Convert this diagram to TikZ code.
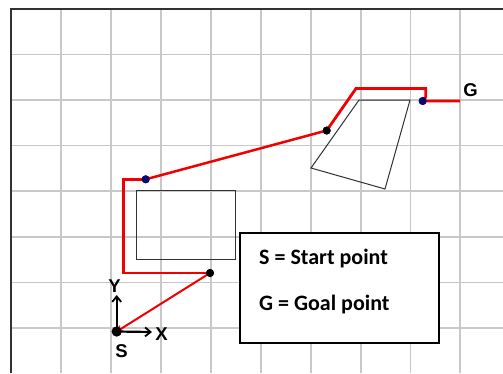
\documentclass[tikz,border=0pt]{standalone}
\usepackage{fontspec}
\setmainfont{Carlito}
\newfontfamily\arialfont{Liberation Sans}
\usetikzlibrary{arrows.meta}
\definecolor{gridgray}{RGB}{200,200,200}
\definecolor{framegray}{RGB}{50,50,50}
\definecolor{pathred}{RGB}{240,0,0}
\definecolor{dotblue}{RGB}{10,10,110}
\begin{document}
\begin{tikzpicture}[x=1pt,y=-1pt,
  gridline/.style={draw=gridgray,line width=1.2pt},
  frameline/.style={draw=framegray,line width=1.6pt},
  obstacle/.style={draw=framegray,line width=1pt},
  redthick/.style={draw=pathred,line width=2.8pt},
  redthin/.style={draw=pathred,line width=2pt},
  blackdot/.style={circle,fill=black,inner sep=0pt,minimum size=8pt},
  bluedot/.style={circle,fill=dotblue,inner sep=0pt,minimum size=8pt},
  axisline/.style={draw=black,line width=2.2pt,-{Straight Barb[length=5.5pt,width=9pt,line width=1.8pt]}},
  axlabel/.style={font=\arialfont\bfseries\fontsize{18.5}{18.5}\selectfont,inner sep=0pt},
  legendtext/.style={font=\bfseries\fontsize{22}{22}\selectfont,anchor=west,inner sep=0pt}
]
\useasboundingbox (0,0) rectangle (503,373);
\fill[white] (0,0) rectangle (503,373);
% grid
\foreach \x in {61,111,161,211,261,311,361,410.5,460}
  \draw[gridline] (\x,9) -- (\x,373);
\foreach \y in {54.5,100,145.5,191,237,282.5,328}
  \draw[gridline] (11,\y) -- (503,\y);
% frame
\draw[frameline] (11,373) -- (11,9) -- (503,9);
% obstacles
\draw[obstacle] (136,190.7) rectangle (235.7,259.3);
\draw[obstacle] (359,100) -- (410,100) -- (385,189) -- (311,168) -- cycle;
% path vertices
\coordinate (c1) at (123.7,273);
\coordinate (c2) at (123.7,179.3);
\coordinate (c3) at (356,88.5);
\coordinate (c4) at (425.7,88.5);
\coordinate (c5) at (425.7,97);
\coordinate (g) at (460,101);
\node[blackdot,minimum size=10pt] (s) at (116.7,331.5) {};
\node[blackdot] (d1) at (210,273) {};
\node[bluedot] (b1) at (145.7,179.3) {};
\node[blackdot] (d2) at (326.7,130.5) {};
\node[bluedot] (b2) at (422.7,101) {};
% path
\draw[redthick] (d1.center) -- (c1) -- (c2) -- (b1.center);
\draw[redthick,line width=2.5pt] (b1.center) -- (d2.center);
\draw[redthick,line join=miter] (d2.center) -- (c3) -- (c4) -- (c5) -- (b2.center) -- (g);
\draw[redthin,-{Straight Barb[length=4.5pt,width=7pt,line width=1.4pt]}] (d1.center) -- (s.center);
\node[blackdot] at (d1) {};
\node[bluedot] at (b1) {};
\node[blackdot] at (d2) {};
\node[bluedot] at (b2) {};
% axes
\coordinate (yend) at (116.7,295);
\coordinate (xend) at (152,332);
\draw[axisline] (s.center) -- (yend);
\draw[axisline] (s.center) -- (xend);
\node[blackdot,minimum size=10pt] at (s) {};
\node[axlabel] (ylab) at (114.5,286) {Y};
\node[axlabel] (xlab) at (161.5,334.5) {X};
\node[axlabel] (slab) at (121.5,351) {S};
\node[axlabel] (glab) at (470.5,90.5) {G};
% legend
\node[draw=black,line width=2pt,fill=white,minimum width=199pt,minimum height=110.6pt,inner sep=0pt] (legend) at (339.5,288) {};
\node[legendtext] (t1) at (259,258.5) {S = Start point};
\node[legendtext] (t2) at (259,305) {G = Goal point};
\end{tikzpicture}
\end{document}
